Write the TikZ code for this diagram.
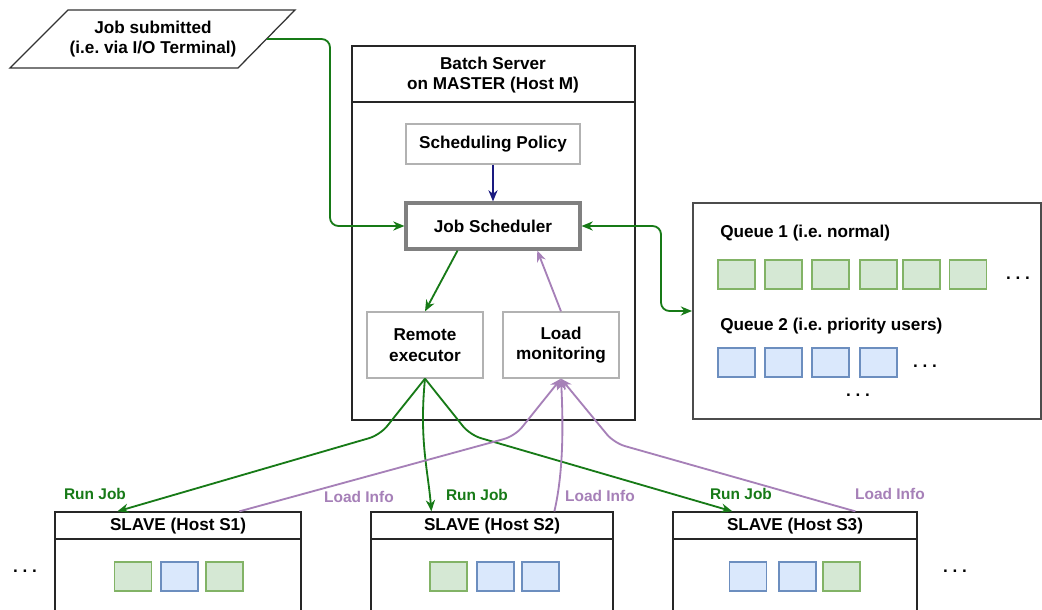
\documentclass[tikz,border=0pt]{standalone}
\usepackage{fontspec}
\setmainfont{Liberation Sans}
\frenchspacing
\usetikzlibrary{arrows.meta,fit,calc}
\definecolor{grn}{HTML}{177A17}
\definecolor{purp}{HTML}{A680B8}
\definecolor{navy}{HTML}{1A1A80}
\definecolor{qgreen}{HTML}{D5E8D4}
\definecolor{qgreenline}{HTML}{82B366}
\definecolor{qblue}{HTML}{DAE8FC}
\definecolor{qblueline}{HTML}{6C8EBF}
\tikzset{
  box/.style={draw=black!30, line width=0.9pt, inner sep=0pt, align=center},
  hostbox/.style={draw=black!85, line width=0.9pt, inner sep=0pt},
  sqg/.style={draw=qgreenline, fill=qgreen, line width=0.9pt, minimum width=0.93cm, minimum height=0.725cm, inner sep=0pt},
  sqb/.style={sqg, draw=qblueline, fill=qblue},
  lbl/.style={font=\bfseries\fontsize{11}{13}\selectfont},
  link/.style={line width=1.3pt},
  tip/.style={link, -{Stealth[length=8pt,width=6.5pt]}},
  twotip/.style={link, {Stealth[length=8pt,width=6.5pt]}-{Stealth[length=8pt,width=6.5pt]}}
}
\begin{document}
\begin{tikzpicture}[x=0.025cm,y=-0.025cm,line width=0.9pt,font=\bfseries\fontsize{12.2}{14.5}\selectfont]
\path[use as bounding box, fill=white] (0,0) rectangle (1042,610);
% job input
\draw[black!80] (68,10) -- (295,10) -- (238,68) -- (10,68) -- cycle;
\node[align=center] (job) at (153,39) {Job submitted\\(i.e. via I/O Terminal)};
\coordinate (jobout) at (267,39);
% master
\node[hostbox, fit={(352,46)(635,420)}] (master) {};
\draw[black!85] (352,102) -- (635,102);
\node[align=center] (mastert) at (493,75) {Batch Server\\on MASTER (Host M)};
\node[box, minimum width=4.35cm, minimum height=1cm] (policy) at (493,144) {Scheduling Policy};
\node[box, draw=black!50, line width=2.2pt, minimum width=4.35cm, minimum height=1.15cm] (sched) at (493,226) {Job Scheduler};
\node[box, minimum width=2.9cm, minimum height=1.65cm] (exec) at (425,345) {Remote\\executor};
\node[box, minimum width=2.9cm, minimum height=1.65cm] (monitor) at (561,345) {Load\\monitoring};
% queues
\node[hostbox, draw=black!70, line width=1.4pt, fit={(693,203)(1041,419)}] (queue) {};
\node[anchor=west] (q1) at (715,233) {Queue 1 (i.e. normal)};
\foreach \x [count=\i] in {736.5,783.5,830.5,878.5,921.5,968}
  \node[sqg] (q1s\i) at (\x,274.5) {};
\node (q1dots) at (1018,278) {. . .};
\node[anchor=west] (q2) at (715,326) {Queue 2 (i.e. priority users)};
\foreach \x [count=\i] in {736.5,783.5,830.5,878.5}
  \node[sqb] (q2s\i) at (\x,362.5) {};
\node (q2dots) at (925,366) {. . .};
\node (qdots) at (858,395) {. . .};
% slaves
\foreach \n/\xa/\xb in {1/55/301,2/371/613,3/673/917}{
  \node[hostbox, fit={(\xa,512)(\xb,630)}] (s\n) {};
  \draw[black!85] (\xa,539) -- (\xb,539);
  \node (s\n t) at ({(\xa+\xb)/2},526) {SLAVE (Host S\n)};
}
\foreach \x/\c [count=\i] in {133/sqg,179.5/sqb,224.5/sqg,448.5/sqg,495.5/sqb,540.5/sqb,748/sqb,797.5/sqb,841.5/sqg}
  \node[\c] (j\i) at (\x,576.5) {};
\node (ldots) at (25,571) {. . .};
\node (rdots) at (955,571) {. . .};
% connectors
\draw[grn, tip, rounded corners=6pt] (jobout) -- (330,39) |- (sched.west);
\draw[navy, tip] (policy) -- (sched);
\draw[grn, tip] ($(sched.south west)!.3!(sched.south east)$) -- (exec.north);
\draw[purp, tip] (monitor.north) -- ($(sched.south west)!.75!(sched.south east)$);
\draw[grn, twotip, rounded corners=6pt] (sched.east) -| ($(queue.west)+(-31,0)$) -- (queue.west);
\draw[grn, tip, rounded corners=8pt] (exec.south) -- (380,435) -- ($(s1.north west)+(63,0)$);
\draw[grn, tip] (exec.south) .. controls (419,440) and (428,470) .. ($(s2.north west)+(61,0)$);
\draw[grn, tip, rounded corners=8pt] (exec.south) -- (470,435) -- ($(s3.north west)+(60,0)$);
\draw[purp, tip, rounded corners=8pt] ($(s1.north west)+(185,0)$) -- (515,436) -- (monitor.south);
\draw[purp, tip] ($(s2.north west)+(184,0)$) .. controls (564,470) and (563,420) .. (monitor.south);
\draw[purp, tip, rounded corners=8pt] ($(s3.north west)+(183,0)$) -- (614,443) -- (monitor.south);
% labels
\node[lbl, text=grn] (run1) at (95,494) {Run Job};
\node[lbl, text=grn] (run2) at (477,495) {Run Job};
\node[lbl, text=grn] (run3) at (741,494) {Run Job};
\node[lbl, text=purp] (info1) at (359,497) {Load Info};
\node[lbl, text=purp] (info2) at (600,496) {Load Info};
\node[lbl, text=purp] (info3) at (890,494) {Load Info};
\end{tikzpicture}
\end{document}
